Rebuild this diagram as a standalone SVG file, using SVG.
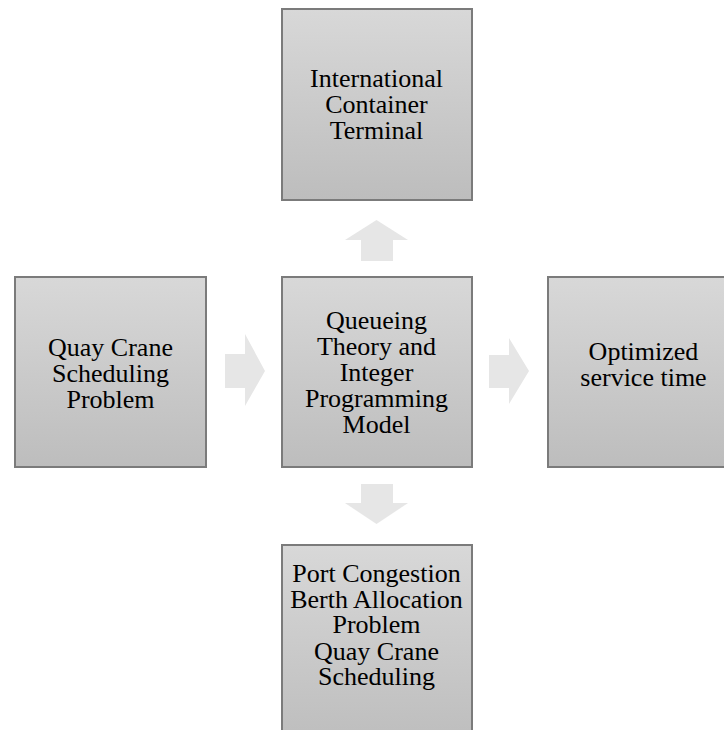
<svg xmlns="http://www.w3.org/2000/svg" width="724" height="730" viewBox="0 0 724 730">
<style>
.box{fill:url(#g);stroke:#7b7b7b;stroke-width:2}
.arr{fill:#e6e6e6}
text{font-family:"Liberation Serif","Times New Roman",serif;font-size:26px;fill:#000;text-anchor:middle}
</style>
<defs>
<linearGradient id="g" x1="0" y1="0" x2="0" y2="1">
<stop offset="0" stop-color="#d8d8d8"/>
<stop offset="1" stop-color="#bdbdbd"/>
</linearGradient>
</defs>
<rect width="724" height="730" fill="#fff"/>
<g id="connectors">
<polygon class="arr" points="361,261 393,261 393,240 408,240 376.5,220 345,240 361,240"/>
<polygon class="arr" points="225,354 245,354 245,334 265,371 245,406 245,388 225,388"/>
<polygon class="arr" points="489,355 509,355 509,338 529,371 509,404 509,388 489,388"/>
<polygon class="arr" points="361,484 393,484 393,503 408,503 376.5,524 345,503 361,503"/>
</g>
<g id="top">
<rect class="box" x="282" y="9" width="190" height="191"/>
<text x="376.5" y="87">International</text>
<text x="376.5" y="113">Container</text>
<text x="376.5" y="139">Terminal</text>
</g>
<g id="left">
<rect class="box" x="15" y="277" width="191" height="190"/>
<text x="110.5" y="356">Quay Crane</text>
<text x="110.5" y="382">Scheduling</text>
<text x="110.5" y="408">Problem</text>
</g>
<g id="center">
<rect class="box" x="282" y="277" width="190" height="190"/>
<text x="376.5" y="329">Queueing</text>
<text x="376.5" y="355">Theory and</text>
<text x="376.5" y="381">Integer</text>
<text x="376.5" y="407">Programming</text>
<text x="376.5" y="433">Model</text>
</g>
<g id="right">
<rect class="box" x="548" y="277" width="191" height="190"/>
<text x="643.5" y="360">Optimized</text>
<text x="643.5" y="386">service time</text>
</g>
<g id="bottom">
<rect class="box" x="282" y="545" width="190" height="200"/>
<text x="376.5" y="582">Port Congestion</text>
<text x="376.5" y="608">Berth Allocation</text>
<text x="376.5" y="633">Problem</text>
<text x="376.5" y="660">Quay Crane</text>
<text x="376.5" y="685">Scheduling</text>
</g>
</svg>
